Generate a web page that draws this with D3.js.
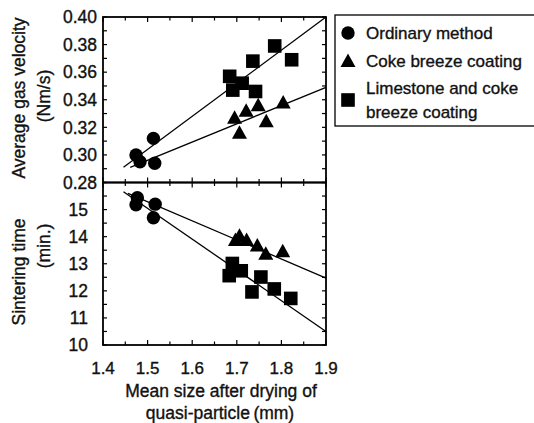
<!DOCTYPE html>
<html><head><meta charset="utf-8">
<script src="https://cdn.jsdelivr.net/npm/d3@7"></script>
<style>body{margin:0;background:#fff}svg text{font-family:"Liberation Sans",Arial,sans-serif;fill:#111;stroke:#111;stroke-width:0.35px}</style>
</head><body><svg id="c" width="534" height="423"></svg>
<script>
// Data
const xTicks=[1.4,1.5,1.6,1.7,1.8,1.9];
const yTopTicks=[0.28,0.30,0.32,0.34,0.36,0.38,0.40];
const yBotTicks=[10,11,12,13,14,15];
// Top panel: average gas velocity
const gasOrdinary=[[1.474,0.300],[1.483,0.295],[1.513,0.312],[1.516,0.294]];
const gasCoke=[[1.695,0.327],[1.706,0.316],[1.721,0.332],[1.748,0.336],[1.766,0.3245],[1.804,0.338]];
const gasLime=[[1.684,0.357],[1.691,0.347],[1.712,0.352],[1.736,0.368],[1.742,0.346],[1.785,0.379],[1.823,0.369]];
const gasLineLime=[[1.446,0.291],[1.9,0.40]];
const gasLineCoke=[[1.461,0.291],[1.9,0.349]];
// Bottom panel: sintering time
const timeOrdinary=[[1.477,15.44],[1.474,15.18],[1.517,15.2],[1.513,14.7]];
const timeCoke=[[1.697,13.88],[1.706,14.03],[1.722,13.88],[1.746,13.67],[1.765,13.37],[1.803,13.46]];
const timeLime=[[1.683,12.56],[1.690,13.01],[1.710,12.74],[1.734,11.96],[1.754,12.51],[1.784,12.07],[1.821,11.72]];
const timeLineCoke=[[1.456,15.6],[1.9,12.47]];
const timeLineLime=[[1.446,15.66],[1.9,10.5]];
const legendItems=[["circle",["Ordinary method"]],["triangle",["Coke breeze coating"]],["square",["Limestone and coke","breeze coating"]]];

const svg=d3.select("#c");
const L=103,R=326,T=17,M=182.5,B=345;
const x=d3.scaleLinear().domain([1.4,1.9]).range([L,R]);
const yT=d3.scaleLinear().domain([0.28,0.40]).range([M,T]);
const yB=d3.scaleLinear().domain([10,16]).range([B,M]);

function marker(g,type,cx,cy){
  if(type==="circle") g.append("circle").attr("cx",cx).attr("cy",cy).attr("r",6.7).attr("fill","#000");
  else if(type==="square") g.append("rect").attr("x",cx-6.8).attr("y",cy-6.8).attr("width",13.6).attr("height",13.6).attr("fill","#000");
  else g.append("path").attr("d",`M${cx},${cy-7.5}L${cx+7.5},${cy+6}L${cx-7.5},${cy+6}Z`).attr("fill","#000");
}
function panel(y,ticks,minorStep,fmt,series,lines,labelRight){
  const g=svg.append("g");
  const [y0,y1]=y.domain();
  const xs=d3.range(1.4,1.9001,0.05).map(v=>+v.toFixed(2));
  xs.forEach((v,i)=>{
    const len=(i%2===0)?5:3.5;
    g.append("line").attr("x1",x(v)).attr("x2",x(v)).attr("y1",y(y0)).attr("y2",y(y0)-len).attr("stroke","#000").attr("stroke-width",1.2);
    g.append("line").attr("x1",x(v)).attr("x2",x(v)).attr("y1",y(y1)).attr("y2",y(y1)+len).attr("stroke","#000").attr("stroke-width",1.2);
  });
  const n=Math.round((y1-y0)/minorStep);
  for(let i=0;i<=n;i++){
    const v=y0+i*minorStep;
    const len=4;
    g.append("line").attr("x1",L).attr("x2",L+len).attr("y1",y(v)).attr("y2",y(v)).attr("stroke","#000").attr("stroke-width",1.2);
    g.append("line").attr("x1",R).attr("x2",R-len).attr("y1",y(v)).attr("y2",y(v)).attr("stroke","#000").attr("stroke-width",1.2);
  }
  g.append("rect").attr("x",L).attr("y",y(y1)).attr("width",R-L).attr("height",y(y0)-y(y1)).attr("fill","none").attr("stroke","#000").attr("stroke-width",1.8);
  ticks.forEach(v=>{
    g.append("text").attr("x",labelRight).attr("y",y(v)).attr("dy","0.36em").attr("text-anchor","end").attr("font-size",17.5).text(fmt(v));
  });
  const line=d3.line().x(d=>x(d[0])).y(d=>y(d[1]));
  lines.forEach(l=>g.append("path").attr("d",line(l)).attr("fill","none").attr("stroke","#000").attr("stroke-width",1.3));
  series.forEach(([type,pts])=>pts.forEach(p=>marker(g,type,x(p[0]),y(p[1]))));
}
panel(yT,yTopTicks,0.01,d3.format(".2f"),[["circle",gasOrdinary],["triangle",gasCoke],["square",gasLime]],[gasLineLime,gasLineCoke],97);
panel(yB,yBotTicks,0.5,d3.format("d"),[["circle",timeOrdinary],["triangle",timeCoke],["square",timeLime]],[timeLineCoke,timeLineLime],88);

xTicks.forEach(v=>svg.append("text").attr("x",x(v)).attr("y",368).attr("dy","0.36em").attr("text-anchor","middle").attr("font-size",17).text(d3.format(".1f")(v)));

function vtext(cx,cy,t){svg.append("text").attr("transform",`translate(${cx},${cy}) rotate(-90)`).attr("text-anchor","middle").attr("dy","0.36em").attr("font-size",17.5).text(t);}
vtext(19,98,"Average gas velocity");
vtext(44,96,"(Nm/s)");
vtext(19,272,"Sintering time");
vtext(44,246,"(min.)");
svg.append("text").attr("x",221).attr("y",391).attr("dy","0.36em").attr("text-anchor","middle").attr("font-size",17.5).text("Mean size after drying of");
svg.append("text").attr("x",220).attr("y",413).attr("dy","0.36em").attr("text-anchor","middle").attr("font-size",17.5).text("quasi-particle\u2009(mm)");

svg.append("rect").attr("x",335).attr("y",15).attr("width",210).attr("height",111).attr("fill","none").attr("stroke","#000").attr("stroke-width",1.3);
const lg=svg.append("g");
const rows=[[33],[61],[88,112]];
const mk=[33,61,100];
legendItems.forEach(([type,lines],i)=>{
  marker(lg,type,348,mk[i]);
  lines.forEach((t,j)=>lg.append("text").attr("x",366).attr("y",rows[i][j]).attr("dy","0.36em").attr("font-size",17).text(t));
});
</script></body></html>
